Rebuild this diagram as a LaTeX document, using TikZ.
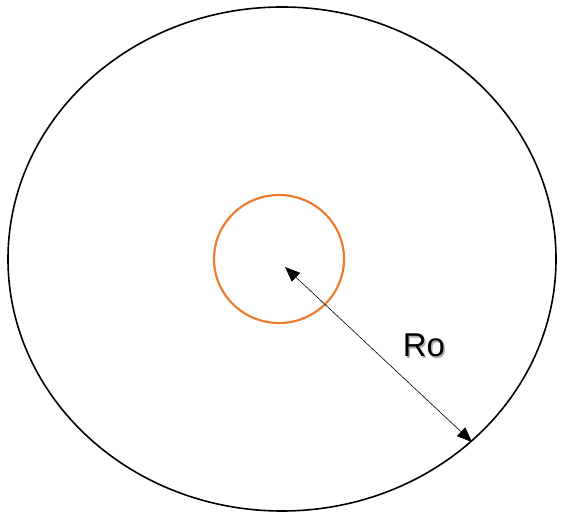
\documentclass[tikz,border=0pt]{standalone}
\usepackage{fontspec}
\setmainfont{Liberation Sans}
\usetikzlibrary{arrows.meta, positioning}
\definecolor{ink}{HTML}{000000}
\definecolor{ringorange}{HTML}{ED7D31}
\tikzset{el/.style={line cap=round, line join=round}}

\begin{document}
\begin{tikzpicture}[el, x=1pt, y=-1pt]
  \useasboundingbox (0,0) rectangle (572,526);
  \draw[ink, line width=1.6pt] (282,259) ellipse [x radius=274, y radius=252];
  \draw[ringorange, line width=2.2pt] (279,259) ellipse [x radius=65, y radius=64];
  \coordinate (hub) at (285,267);
  \coordinate (rim) at (472,442);
  \draw[ink, line width=0.6pt, {Triangle[length=15pt, width=12pt]}-{Triangle[length=15pt, width=12pt]}] (hub) -- (rim);
  \node[gray!60, font=\fontsize{33}{40}\selectfont, inner sep=0pt] (roshadow) at (425.5,347) {Ro};
  \node[ink, font=\fontsize{33}{40}\selectfont, inner sep=0pt] (rolabel) at (424,345.5) {Ro};
\end{tikzpicture}
\end{document}
